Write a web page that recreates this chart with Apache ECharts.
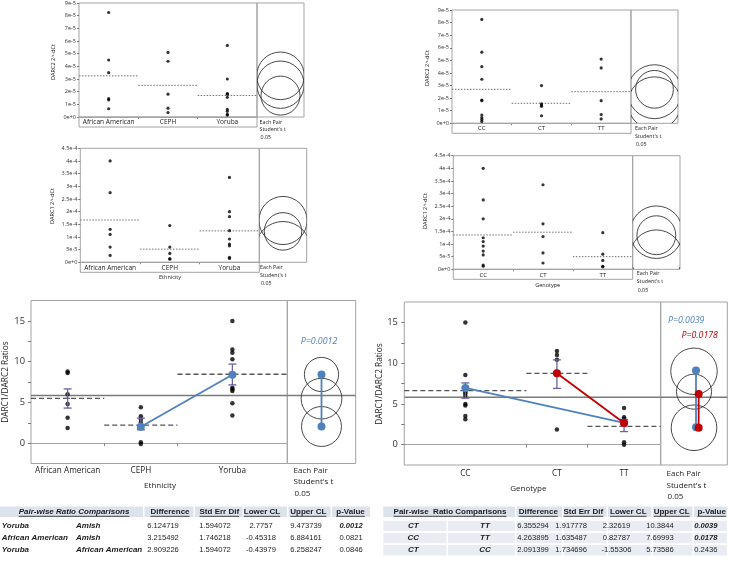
<!DOCTYPE html>
<html><head><meta charset="utf-8">
<script src="https://cdn.jsdelivr.net/npm/echarts@6/dist/echarts.min.js"></script>
<style>html,body{margin:0;padding:0;background:#fff}#c{width:732px;height:562px}</style>
</head><body><div id="c"></div>
<script>
// ---------------- DATA ----------------
const ethnicity = ['African American', 'CEPH', 'Yoruba'];
const genotypes = ['CC', 'CT', 'TT'];

// Panel A: DARC2 2^-dCt by ethnicity
const darc2EthAA = [8.25e-5, 4.5e-5, 3.5e-5, 1.45e-5, 1.35e-5, 0.65e-5];
const darc2EthCEPH = [5.1e-5, 4.4e-5, 1.8e-5, 0.7e-5, 0.35e-5];
const darc2EthYor = [5.65e-5, 3.0e-5, 1.85e-5, 1.8e-5, 1.55e-5, 0.6e-5, 0.45e-5, 0.2e-5, 0.15e-5];
const darc2EthMeans = [3.25e-5, 2.5e-5, 1.7e-5];
const darc2EthCircleC = [3.25e-5, 2.55e-5, 1.69e-5];
const darc2EthCircleR = [1.88e-5, 1.87e-5, 1.54e-5];
const darc2TickLabels = ['0e+0','1e-5','2e-5','3e-5','4e-5','5e-5','6e-5','7e-5','8e-5','9e-5'];

// Panel B: DARC2 2^-dCt by genotype
const darc2GenCC = [8.25e-5, 5.65e-5, 4.5e-5, 3.5e-5, 1.85e-5, 1.8e-5, 0.65e-5, 0.45e-5, 0.3e-5, 0.15e-5];
const darc2GenCT = [3.0e-5, 1.55e-5, 1.45e-5, 1.35e-5, 0.6e-5];
const darc2GenTT = [5.1e-5, 4.4e-5, 1.8e-5, 0.7e-5, 0.35e-5];
const darc2GenMeans = [2.7e-5, 1.59e-5, 2.51e-5];
const darc2GenCircleC = [2.7e-5, 1.59e-5, 2.51e-5];
const darc2GenCircleR = [1.5e-5, 2.1e-5, 2.14e-5];

// Panel C: DARC1 2^-dCt by ethnicity
const darc1EthAA = [4.0e-4, 2.75e-4, 1.3e-4, 1.1e-4, 0.6e-4, 0.27e-4];
const darc1EthCEPH = [1.45e-4, 0.6e-4, 0.35e-4, 0.15e-4, 0.12e-4];
const darc1EthYor = [3.35e-4, 2.0e-4, 1.8e-4, 1.25e-4, 0.92e-4, 0.72e-4, 0.65e-4, 0.2e-4, 0.15e-4];
const darc1EthMeans = [1.67e-4, 0.52e-4, 1.24e-4];
const darc1EthCircleC = [1.65e-4, 0.52e-4, 1.22e-4];
const darc1EthCircleR = [0.95e-4, 1.09e-4, 0.74e-4];
const darc1TickLabels = ['0e+0','5e-5','1e-4','1.5e-4','2e-4','2.5e-4','3e-4','3.5e-4','4e-4','4.5e-4'];

// Panel D: DARC1 2^-dCt by genotype
const darc1GenCC = [4.0e-4, 2.75e-4, 2.0e-4, 1.25e-4, 1.1e-4, 0.92e-4, 0.72e-4, 0.57e-4, 0.17e-4, 0.12e-4];
const darc1GenCT = [3.35e-4, 1.8e-4, 1.3e-4, 0.65e-4, 0.25e-4];
const darc1GenTT = [1.45e-4, 0.6e-4, 0.35e-4, 0.12e-4, 0.1e-4];
const darc1GenMeans = [1.36e-4, 1.47e-4, 0.5e-4];
const darc1GenCircleC = [1.35e-4, 1.47e-4, 0.52e-4];
const darc1GenCircleR = [0.77e-4, 1.04e-4, 1.04e-4];

// Panel E: DARC1/DARC2 ratios by ethnicity
const ratioEthAA = [8.8, 8.6, 6.0, 4.8, 3.1, 1.85];
const ratioEthCEPH = [4.4, 3.3, 2.9, 2.5, 0.1, -0.1];
const ratioEthYor = [15.0, 11.5, 11.1, 10.3, 6.8, 6.6, 6.4, 4.9, 3.4];
const ratioEthGroupN = [6, 6, 9];
const ratioEthMeans = [5.5, 2.2, 8.45];
const ratioEthErrLow = [4.3, 1.63, 7.15];
const ratioEthErrHigh = [6.65, 3.07, 9.7];
const ratioEthLsMeanBlue = [2.0, 8.4];      // CEPH, Yoruba
const ratioEthGrandMean = 5.85;
const ratioEthCircleC = [5.46, 2.04, 8.42];
const ratioEthCircleR = [2.5, 2.45, 2.1];
const ratioEthCompareBlue = [8.42, 2.04];

// Panel F: DARC1/DARC2 ratios by genotype
const ratioGenCC = [15.0, 8.55, 7.0, 6.5, 6.3, 6.0, 5.0, 4.8, 3.5, 3.1];
const ratioGenCT = [11.5, 11.0, 10.4, 8.9, 1.85];
const ratioGenTT = [4.5, 3.35, 3.15, 2.8, 0.3, 0.0];
const ratioGenGroupN = [10, 5, 6];
const ratioGenMeans = [6.63, 8.75, 2.25];
const ratioGenErrLow = [5.7, 6.9, 1.6];
const ratioGenErrHigh = [7.57, 10.4, 3.1];
const ratioGenBlue = [6.96, 2.66];   // CC -> TT
const ratioGenRed = [8.75, 2.66];    // CT -> TT
const ratioGenGrandMean = 5.81;
const ratioGenCircleC = [9.0, 6.5, 2.07];
const ratioGenCircleR = [2.85, 2.15, 2.8];
const ratioGenCompareBlue = [9.08, 2.13];
const ratioGenCompareRed = [6.2, 2.07];
const ratioTickLabels = [0, 5, 10, 15];
const ratioTickMarks = [0, 2.5, 5, 7.5, 10, 12.5, 15];

// Tables
const tableHeaders = ['Difference', 'Std Err Dif', 'Lower CL', 'Upper CL', 'p-Value'];
const ethPairA = ['Yoruba', 'African American', 'Yoruba'];
const ethPairB = ['Amish', 'Amish', 'African American'];
const ethDiff = ['6.124719', '3.215492', '2.909226'];
const ethSE = ['1.594072', '1.746218', '1.594072'];
const ethLower = ['2.7757', '-0.45318', '-0.43979'];
const ethUpper = ['9.473739', '6.884161', '6.258247'];
const ethP = ['0.0012', '0.0821', '0.0846'];
const genPairA = ['CT', 'CC', 'CT'];
const genPairB = ['TT', 'TT', 'CC'];
const genDiff = ['6.355294', '4.263895', '2.091399'];
const genSE = ['1.917778', '1.635487', '1.734696'];
const genLower = ['2.32619', '0.82787', '-1.55306'];
const genUpper = ['10.3844', '7.69993', '5.73586'];
const genP = ['0.0039', '0.0178', '0.2436'];

// ---------------- BUILD ----------------
const FONT = "'Open Sans', 'Noto Sans', sans-serif";
const TFONT = "'Liberation Sans', Arial, sans-serif";
const frameColor = '#a3a3a3';
const blue = '#4f81bd', red = '#c00000', errColor = '#6a5fa8';
const grids = [], xAxes = [], yAxes = [], series = [], graphics = [];

function panel(o) {
  const gp = grids.length, gc = gp + 1;
  grids.push({left: o.plot[0], top: o.plot[1], width: o.plot[2], height: o.plot[3], show: true, borderColor: frameColor, borderWidth: 1});
  grids.push({left: o.plot[0] + o.plot[2], top: o.plot[1], width: o.compW, height: o.plot[3], show: true, borderColor: frameColor, borderWidth: 1});
  const bounds = [0];
  o.widths.forEach(w => bounds.push(bounds[bounds.length - 1] + w));
  const total = bounds[bounds.length - 1];
  const centers = o.widths.map((w, i) => bounds[i] + w / 2);
  xAxes.push({type: 'value', gridIndex: gp, min: 0, max: total, splitLine: {show: false},
    axisLine: {show: true, lineStyle: {color: frameColor}},
    axisTick: {show: true, customValues: bounds.slice(1, -1), length: o.xTickLen, lineStyle: {color: '#888'}},
    axisLabel: {customValues: centers, fontSize: o.catFont, margin: o.catMargin, color: '#222', fontFamily: FONT,
      formatter: v => { const i = centers.findIndex(c => Math.abs(c - v) < 1e-6); return i >= 0 ? o.names[i] : ''; }}});
  xAxes.push({type: 'value', gridIndex: gc, min: 0, max: 1, show: false});
  const yAx = {type: 'value', gridIndex: gp, min: o.y.min, max: o.y.max, splitLine: {show: false},
    axisLine: {show: false}, axisTick: {show: true, length: o.y.tickLen, lineStyle: {color: '#777'}},
    axisLabel: {fontSize: o.y.font, margin: o.y.margin, color: '#333', fontFamily: FONT, formatter: o.y.fmt}};
  if (o.y.interval) yAx.interval = o.y.interval;
  if (o.y.labelValues) { yAx.axisLabel.customValues = o.y.labelValues; yAx.axisTick.customValues = o.y.tickValues; }
  yAxes.push(yAx);
  yAxes.push({type: 'value', gridIndex: gc, min: o.y.min, max: o.y.max, show: false});

  // points
  const pts = [];
  o.groups.forEach((g, i) => g.forEach(v => pts.push([centers[i], v])));
  series.push({type: 'scatter', xAxisIndex: gp, yAxisIndex: gp, data: pts, symbolSize: o.dot, itemStyle: {color: '#000'}, silent: true, z: 4});
  // mean segments
  series.push({type: 'custom', xAxisIndex: gp, yAxisIndex: gp, silent: true, z: 3,
    data: o.means.map((m, i) => [bounds[i], bounds[i + 1], m]),
    renderItem: (p, api) => {
      const a = api.coord([api.value(0), api.value(2)]), b = api.coord([api.value(1), api.value(2)]);
      return {type: 'line', shape: {x1: a[0], y1: a[1], x2: b[0], y2: b[1]}, style: {stroke: o.meanColor, lineWidth: o.meanWidth, lineDash: o.meanDash}};
    }});
  // comparison circles
  series.push({type: 'custom', xAxisIndex: gc, yAxisIndex: gc, silent: true, z: 3, clip: true,
    data: o.circC.map((c, i) => [c, o.circR[i]]),
    renderItem: (p, api) => {
      const c = api.coord([0.5, api.value(0)]);
      const r = api.size([0, api.value(1)])[1];
      const cs = p.coordSys;
      return {type: 'group', clipPath: {type: 'rect', shape: {x: cs.x, y: cs.y, width: cs.width, height: cs.height}},
        children: [{type: 'circle', shape: {cx: c[0], cy: c[1], r: r}, style: {fill: 'none', stroke: '#333', lineWidth: 0.9}}]};
    }});
  return {gp, gc, centers, total};
}

function hline(gridIdx, x0, x1, y, color, width) {
  series.push({type: 'line', xAxisIndex: gridIdx, yAxisIndex: gridIdx, data: [[x0, y], [x1, y]], symbol: 'none', silent: true, z: 2,
    lineStyle: {color: color, width: width}});
}
function errBars(gridIdx, xs, lows, highs, mids, capPx) {
  series.push({type: 'custom', xAxisIndex: gridIdx, yAxisIndex: gridIdx, silent: true, z: 5,
    data: xs.map((x, i) => [x, lows[i], highs[i], mids[i]]),
    renderItem: (p, api) => {
      const lo = api.coord([api.value(0), api.value(1)]), hi = api.coord([api.value(0), api.value(2)]), md = api.coord([api.value(0), api.value(3)]);
      const st = {stroke: errColor, lineWidth: 1.3};
      return {type: 'group', children: [
        {type: 'line', shape: {x1: lo[0], y1: lo[1], x2: hi[0], y2: hi[1]}, style: st},
        {type: 'line', shape: {x1: lo[0] - capPx, y1: lo[1], x2: lo[0] + capPx, y2: lo[1]}, style: st},
        {type: 'line', shape: {x1: hi[0] - capPx, y1: hi[1], x2: hi[0] + capPx, y2: hi[1]}, style: st},
        {type: 'line', shape: {x1: md[0] - capPx * 0.6, y1: md[1], x2: md[0] + capPx * 0.6, y2: md[1]}, style: st}
      ]};
    }});
}
function connect(gridIdx, pts, color, z) {
  series.push({type: 'line', xAxisIndex: gridIdx, yAxisIndex: gridIdx, data: pts, symbol: 'circle', symbolSize: 8, silent: true, z: z || 6,
    lineStyle: {color: color, width: 1.8}, itemStyle: {color: color}});
}

const expFmt = labels => (v, i) => labels[i] !== undefined ? labels[i] : '';
const ratioFmt = v => String(Math.round(v));

const dottedMean = {meanColor: '#707070', meanWidth: 1, meanDash: [1.5, 1.5]};
const dashedMean = {meanColor: '#555', meanWidth: 1.3, meanDash: [5, 3]};

// A
panel(Object.assign({plot: [79, 3, 178, 114], compW: 47, widths: [1, 1, 1], names: ethnicity,
  groups: [darc2EthAA, darc2EthCEPH, darc2EthYor], means: darc2EthMeans, circC: darc2EthCircleC, circR: darc2EthCircleR,
  catFont: 6.5, catMargin: 1.5, xTickLen: 2, dot: 3.2,
  y: {min: 0, max: 9e-5, interval: 1e-5, tickLen: 2, font: 5.5, margin: 3, fmt: expFmt(darc2TickLabels)}}, dottedMean));
// B
panel(Object.assign({plot: [452, 10, 179, 113.3], compW: 47, widths: [1, 1, 1], names: genotypes,
  groups: [darc2GenCC, darc2GenCT, darc2GenTT], means: darc2GenMeans, circC: darc2GenCircleC, circR: darc2GenCircleR,
  catFont: 6, catMargin: 2, xTickLen: 2, dot: 3.2,
  y: {min: 0, max: 9e-5, interval: 1e-5, tickLen: 2, font: 5.5, margin: 3, fmt: expFmt(darc2TickLabels)}}, dottedMean));
// C
panel(Object.assign({plot: [80.3, 148.3, 179, 114], compW: 47.4, widths: [1, 1, 1], names: ethnicity,
  groups: [darc1EthAA, darc1EthCEPH, darc1EthYor], means: darc1EthMeans, circC: darc1EthCircleC, circR: darc1EthCircleR,
  catFont: 6.5, catMargin: 2, xTickLen: 2, dot: 3.2,
  y: {min: 0, max: 4.5e-4, interval: 0.5e-4, tickLen: 2, font: 5.5, margin: 3, fmt: expFmt(darc1TickLabels)}}, dottedMean));
// D
panel(Object.assign({plot: [453.3, 155.7, 179.4, 113.6], compW: 47.3, widths: [1, 1, 1], names: genotypes,
  groups: [darc1GenCC, darc1GenCT, darc1GenTT], means: darc1GenMeans, circC: darc1GenCircleC, circR: darc1GenCircleR,
  catFont: 6, catMargin: 2.7, xTickLen: 2, dot: 3.2,
  y: {min: 0, max: 4.5e-4, interval: 0.5e-4, tickLen: 2, font: 5.5, margin: 3, fmt: expFmt(darc1TickLabels)}}, dottedMean));
// E
const pE = panel(Object.assign({plot: [31, 300.5, 256.3, 163], compW: 68.4, widths: ratioEthGroupN, names: ethnicity,
  groups: [ratioEthAA, ratioEthCEPH, ratioEthYor], means: ratioEthMeans, circC: ratioEthCircleC, circR: ratioEthCircleR,
  catFont: 8.2, catMargin: 3.5, xTickLen: 3, dot: 4.5,
  y: {min: -2.5, max: 17.5, labelValues: ratioTickLabels, tickValues: ratioTickMarks, tickLen: 3, font: 9.3, margin: 6, fmt: ratioFmt}}, dashedMean));
hline(pE.gp, 0, pE.total, ratioEthGrandMean, '#7a7a7a', 1.5);
hline(pE.gc, 0, 1, ratioEthGrandMean, '#7a7a7a', 1.5);
errBars(pE.gp, pE.centers, ratioEthErrLow, ratioEthErrHigh, ratioEthMeans, 4);
connect(pE.gp, [[pE.centers[1], ratioEthLsMeanBlue[0]], [pE.centers[2], ratioEthLsMeanBlue[1]]], blue);
connect(pE.gc, [[0.5, ratioEthCompareBlue[0]], [0.5, ratioEthCompareBlue[1]]], blue);
// F
const pF = panel(Object.assign({plot: [404.3, 302, 256.4, 163], compW: 66.6, widths: ratioGenGroupN, names: genotypes,
  groups: [ratioGenCC, ratioGenCT, ratioGenTT], means: ratioGenMeans, circC: ratioGenCircleC, circR: ratioGenCircleR,
  catFont: 8.2, catMargin: 4.2, xTickLen: 3, dot: 4.5,
  y: {min: -2.5, max: 17.5, labelValues: ratioTickLabels, tickValues: ratioTickMarks, tickLen: 3, font: 9.3, margin: 6.5, fmt: ratioFmt}}, dashedMean));
hline(pF.gp, 0, pF.total, ratioGenGrandMean, '#7a7a7a', 1.5);
hline(pF.gc, 0, 1, ratioGenGrandMean, '#7a7a7a', 1.5);
errBars(pF.gp, pF.centers, ratioGenErrLow, ratioGenErrHigh, ratioGenMeans, 4);
connect(pF.gp, [[pF.centers[0], ratioGenBlue[0]], [pF.centers[2], ratioGenBlue[1]]], blue, 6);
connect(pF.gp, [[pF.centers[1], ratioGenRed[0]], [pF.centers[2], ratioGenRed[1]]], red, 7);
connect(pF.gc, [[0.53, ratioGenCompareBlue[0]], [0.53, ratioGenCompareBlue[1]]], blue, 6);
connect(pF.gc, [[0.57, ratioGenCompareRed[0]], [0.57, ratioGenCompareRed[1]]], red, 7);

// ---------------- TEXT / FRAMES ----------------
function txt(x, y, text, size, opt) {
  opt = opt || {};
  graphics.push({type: 'text', x: x, y: y, rotation: opt.rot || 0, silent: true, z: 10,
    style: {text: text, fill: opt.color || '#222', align: opt.align || 'left', verticalAlign: 'middle',
      font: (opt.style || '') + ' ' + (opt.weight || 'normal') + ' ' + size + 'px ' + (opt.family || FONT)}});
}
function box(x, y, w, h, stroke, fill) {
  graphics.push({type: 'rect', silent: true, z: 1, shape: {x: x, y: y, width: w, height: h},
    style: {stroke: stroke || 'none', fill: fill || 'none', lineWidth: 1}});
}
// label boxes under top panels
box(79, 117, 178, 10, frameColor);
box(452, 123.3, 179, 10, frameColor);
box(80.3, 262.3, 179, 10, frameColor);
box(453.3, 269.3, 179.4, 10, frameColor);

// y-axis names
txt(53, 62, 'DARC2 2^-dCt', 5.5, {rot: Math.PI / 2, align: 'center'});
txt(427.3, 68, 'DARC2 2^-dCt', 5.5, {rot: Math.PI / 2, align: 'center'});
txt(52.7, 206, 'DARC1 2^-dCt', 5.5, {rot: Math.PI / 2, align: 'center'});
txt(425, 211, 'DARC1 2^-dCt', 5.5, {rot: Math.PI / 2, align: 'center'});
txt(6, 382, 'DARC1/DARC2 Ratios', 8.3, {rot: Math.PI / 2, align: 'center'});
txt(380, 384, 'DARC1/DARC2 Ratios', 8.3, {rot: Math.PI / 2, align: 'center'});

// x-axis names
txt(170, 277.5, 'Ethnicity', 5.5, {align: 'center'});
txt(547.7, 285, 'Genotype', 5.5, {align: 'center'});
txt(160, 486, 'Ethnicity', 8, {align: 'center'});
txt(528.3, 488.3, 'Genotype', 8, {align: 'center'});

// Each pair notes
function eachPair(x, y, dy, size) {
  txt(x, y, 'Each Pair', size);
  txt(x, y + dy, "Student's t", size);
  txt(x + 1, y + 2 * dy, '0.05', size);
}
eachPair(259.5, 122, 7.5, 5.3);
eachPair(635, 128.3, 8.2, 5.3);
eachPair(260, 267, 8, 5.3);
eachPair(636.7, 273.5, 8.3, 5.3);
eachPair(293.5, 471, 11.2, 8);
eachPair(666.5, 473.5, 11.8, 8);

// p-value annotations
txt(319, 341.7, 'P=0.0012', 8.8, {align: 'center', color: blue, style: 'italic'});
txt(668, 320.5, 'P=0.0039', 8.8, {color: blue, style: 'italic'});
txt(681.5, 335.5, 'P=0.0178', 8.8, {color: red, style: 'italic'});

// ---------------- TABLES ----------------
const measureCtx = document.createElement('canvas').getContext('2d');
function underlineText(x, y, text, size, style, color) {
  const font = style + ' bold ' + size + 'px ' + TFONT;
  measureCtx.font = font;
  const w = measureCtx.measureText(text).width;
  txt(x, y, text, size, {align: 'center', weight: 'bold', style: style, family: TFONT, color: color});
  graphics.push({type: 'line', silent: true, z: 10, shape: {x1: x - w / 2, y1: y + 4.6, x2: x + w / 2, y2: y + 4.6}, style: {stroke: color, lineWidth: 0.8}});
}
const hdrBg = '#dde3ec', rowBg = '#e9edf3', tColor = '#1b1b1b';
// left table
[[0, 143], [144.5, 193.5], [195, 242.5], [244, 287], [288.5, 330.5], [332, 370]].forEach(c => box(c[0], 506.5, c[1] - c[0], 10.5, null, hdrBg));
underlineText(74, 511.7, 'Pair-wise Ratio Comparisons', 8, 'italic', tColor);
[170, 219.3, 262, 308.3, 350.5].forEach((x, i) => underlineText(x, 511.7, tableHeaders[i], 8, '', tColor));
const rowY = [525.7, 537.9, 550.1];
const lCols = [163, 215, 261, 306, 351];
rowY.forEach((y, r) => {
  txt(1.7, y, ethPairA[r], 8, {weight: 'bold', style: 'italic', family: TFONT, color: tColor});
  txt(76, y, ethPairB[r], 8, {weight: 'bold', style: 'italic', family: TFONT, color: tColor});
  [ethDiff, ethSE, ethLower, ethUpper, ethP].forEach((col, c) => {
    const b = (c === 4 && r === 0);
    txt(lCols[c], y, col[r], 7.6, {align: 'center', family: TFONT, color: tColor, weight: b ? 'bold' : 'normal', style: b ? 'italic' : ''});
  });
});
// right table
[[383.3, 515], [516.5, 562], [563.5, 606.5], [608, 651.5], [653, 692.5], [694, 727]].forEach(c => box(c[0], 506.5, c[1] - c[0], 10.5, null, hdrBg));
underlineText(450, 511.7, 'Pair-wise  Ratio Comparisons', 8, '', tColor);
[538.3, 583.3, 628.3, 671.7, 711.7].forEach((x, i) => underlineText(x, 511.7, tableHeaders[i], 8, '', tColor));
const rCellX = [[383.3, 446.5], [448, 515], [516.5, 562], [563.5, 606.5], [608, 651.5], [653, 692.5], [694, 727]];
const rCols = [533, 571.2, 616.5, 660, 705.8];
rowY.forEach((y, r) => {
  rCellX.forEach(c => box(c[0], y - 5, c[1] - c[0], 10.3, null, rowBg));
  txt(413.3, y, genPairA[r], 8, {align: 'center', weight: 'bold', style: 'italic', family: TFONT, color: tColor});
  txt(485, y, genPairB[r], 8, {align: 'center', weight: 'bold', style: 'italic', family: TFONT, color: tColor});
  [genDiff, genSE, genLower, genUpper, genP].forEach((col, c) => {
    const b = (c === 4 && r < 2);
    txt(rCols[c], y, col[r], 7.6, {align: 'center', family: TFONT, color: tColor, weight: b ? 'bold' : 'normal', style: b ? 'italic' : ''});
  });
});

const chart = echarts.init(document.getElementById('c'), null, {renderer: 'canvas'});
chart.setOption({
  animation: false,
  backgroundColor: '#fff',
  textStyle: {fontFamily: FONT},
  grid: grids, xAxis: xAxes, yAxis: yAxes, series: series, graphic: graphics
});
</script></body></html>
